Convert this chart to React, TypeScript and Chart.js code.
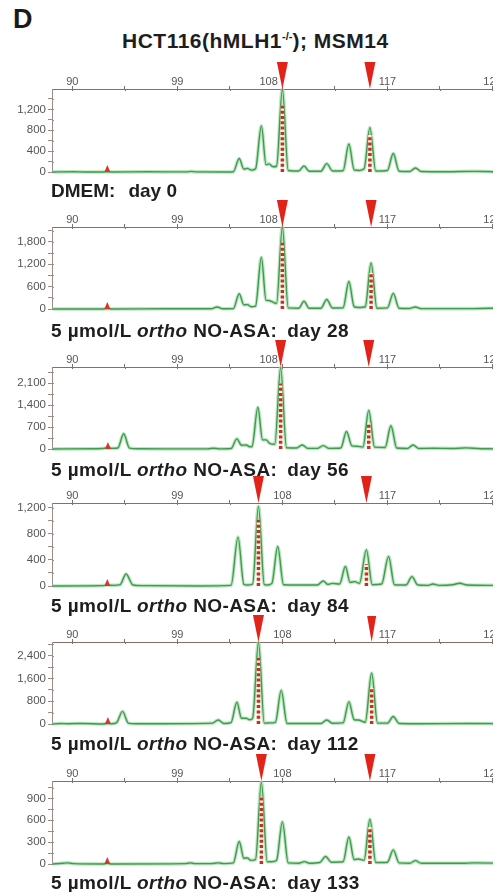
import React, { useEffect, useRef } from "react";
import { Chart, registerables } from "chart.js";

Chart.register(...registerables);

const FONT = "'Liberation Sans', Arial, Helvetica, sans-serif";

// ---------- data ----------
const xMin = 88.26;
const xMax = 128.36;
const xTicks = [90, 94.5, 99, 103.5, 108, 112.5, 117, 121.5, 126];
const xLabels = [90, 99, 108, 117, 126];

const treatmentParts: string[][] = [
  ["DMEM"],
  ["5 µmol/L ", "ortho", " NO-ASA"],
  ["5 µmol/L ", "ortho", " NO-ASA"],
  ["5 µmol/L ", "ortho", " NO-ASA"],
  ["5 µmol/L ", "ortho", " NO-ASA"],
  ["5 µmol/L ", "ortho", " NO-ASA"],
];
const days = [0, 28, 56, 84, 112, 133];

const yMax = [1590, 2200, 2620, 1272, 2880, 1140];
const yMajorStep = [400, 600, 700, 400, 800, 300];

const trace1: [number, number][] = [
  [88.3, 0], [90.2, 4], [91.0, 0], [92.6, 0], [93.0, 6], [93.4, 0], [96.5, 4], [99.8, 2], [100.2, 12], [100.6, 2],
  [103.3, 0], [103.8, 6], [104.3, 258], [104.7, 55], [105.0, 70], [105.35, 35], [105.7, 60], [106.2, 884],
  [106.6, 140], [106.85, 155], [107.2, 100], [107.5, 110], [108.0, 1590], [108.5, 30], [109.4, 20], [109.85, 116],
  [110.3, 15], [111.3, 15], [111.8, 161], [112.3, 20], [113.2, 25], [113.7, 535], [114.15, 40], [114.6, 30],
  [115.0, 60], [115.5, 851], [116.0, 20], [117.0, 30], [117.5, 355], [118.0, 15], [118.9, 10], [119.4, 77],
  [119.9, 10], [122.0, 5], [124.5, 12], [126.0, 5], [128.5, 3],
];
const trace2: [number, number][] = [
  [88.3, 0], [92.6, 0], [93.0, 10], [93.4, 0], [98.0, 5], [101.9, 5], [102.4, 55], [102.9, 5], [103.8, 10],
  [104.3, 409], [104.7, 110], [105.0, 118], [105.35, 60], [105.7, 80], [106.2, 1390], [106.6, 230], [106.85, 227],
  [107.15, 190], [107.5, 150], [108.0, 2200], [108.5, 30], [109.4, 20], [109.85, 209], [110.3, 20], [111.3, 20],
  [111.8, 255], [112.3, 25], [113.2, 30], [113.7, 736], [114.15, 60], [114.6, 40], [115.1, 60], [115.6, 1236],
  [116.1, 20], [117.0, 30], [117.5, 418], [118.0, 20], [118.9, 15], [119.4, 55], [119.9, 10], [124.0, 10],
  [125.8, 20], [128.5, 5],
];
const trace3: [number, number][] = [
  [88.3, 0], [92.0, 10], [92.6, 15], [93.0, 40], [93.4, 20], [93.9, 30], [94.4, 485], [94.9, 30], [95.6, 10],
  [98.0, 5], [101.6, 5], [102.1, 25], [102.6, 5], [103.6, 15], [104.1, 323], [104.5, 120], [104.9, 130],
  [105.2, 70], [105.4, 80], [105.9, 1335], [106.3, 290], [106.6, 290], [106.9, 183], [107.35, 150], [107.85, 2600],
  [108.35, 40], [109.2, 30], [109.7, 130], [110.2, 20], [111.0, 20], [111.5, 108], [112.0, 20], [113.0, 30],
  [113.5, 560], [113.95, 100], [114.4, 90], [114.9, 60], [115.4, 1228], [115.9, 60], [116.8, 50], [117.3, 743],
  [117.8, 30], [118.7, 15], [119.2, 130], [119.7, 15], [120.9, 25], [122.5, 15], [123.7, 35], [125.0, 10],
  [128.5, 5],
];
const trace4: [number, number][] = [
  [88.3, 0], [92.6, 5], [93.0, 15], [93.5, 10], [94.1, 20], [94.6, 185], [95.2, 15], [96.0, 5], [101.0, 0],
  [103.6, 10], [104.2, 749], [104.7, 25], [105.0, 15], [105.45, 30], [105.95, 1221], [106.45, 20], [106.7, 15],
  [107.1, 40], [107.6, 605], [108.1, 20], [110.5, 15], [111.0, 15], [111.5, 77], [111.9, 25], [112.3, 40],
  [112.9, 30], [113.4, 298], [113.8, 55], [114.2, 67], [114.6, 40], [115.2, 554], [115.7, 20], [116.5, 30],
  [117.1, 451], [117.6, 20], [118.6, 15], [119.1, 144], [119.6, 15], [120.5, 10], [120.9, 30], [121.4, 10],
  [122.6, 20], [123.2, 41], [123.8, 15], [126.0, 10], [128.5, 5],
];
const trace5: [number, number][] = [
  [88.3, 0], [89.0, 15], [89.6, 10], [91.0, 20], [92.6, 0], [93.0, 15], [93.4, 10], [93.8, 50], [94.3, 442],
  [94.8, 30], [95.5, 10], [98.0, 10], [102.0, 30], [102.5, 143], [103.0, 20], [103.6, 50], [104.1, 764],
  [104.5, 200], [104.9, 203], [105.2, 150], [105.45, 200], [105.95, 2870], [106.45, 30], [107.0, 40], [107.4, 60],
  [107.9, 1182], [108.4, 20], [109.5, 20], [111.3, 20], [111.8, 143], [112.3, 25], [113.2, 40], [113.7, 776],
  [114.15, 150], [114.5, 140], [115.1, 60], [115.65, 1791], [116.15, 30], [117.0, 30], [117.5, 263], [118.0, 20],
  [120.0, 10], [124.0, 15], [128.5, 10],
];
const trace6: [number, number][] = [
  [88.3, 0], [89.2, 10], [89.6, 15], [90.1, 5], [92.6, 0], [93.0, 8], [93.4, 0], [99.7, 5], [100.1, 15],
  [100.5, 5], [101.9, 5], [102.5, 15], [103.0, 5], [103.8, 15], [104.3, 310], [104.7, 80], [105.0, 83],
  [105.3, 50], [105.7, 60], [106.2, 1123], [106.7, 30], [107.1, 30], [107.5, 50], [108.0, 578], [108.5, 15],
  [109.4, 10], [109.9, 32], [110.3, 10], [111.2, 20], [111.7, 102], [112.2, 25], [113.2, 30], [113.7, 370],
  [114.15, 60], [114.5, 69], [115.0, 50], [115.5, 614], [116.0, 20], [117.0, 25], [117.5, 194], [118.0, 15],
  [118.9, 10], [119.4, 46], [119.9, 10], [123.5, 10], [124.3, 15], [128.5, 5],
];
const traces = [trace1, trace2, trace3, trace4, trace5, trace6];

// called allele markers (bp) and the height of the dotted bars
const markerBp = [
  [108.0, 115.5],
  [108.0, 115.6],
  [107.85, 115.4],
  [105.95, 115.2],
  [105.95, 115.65],
  [106.2, 115.5],
];
const markerHeight = [
  [1270, 712],
  [1776, 969],
  [2090, 818],
  [1015, 338],
  [2315, 1258],
  [922, 507],
];
const smallMarkerBp = [93.0, 93.0, 93.05, 93.0, 93.05, 93.0];
const shift108 = [true, true, true, false, false, false];

// ---------- layout ----------
const axisTop = [89, 227, 367, 503, 642, 781];
const baseline = [172, 309, 449, 586, 724, 864];
const labelCapTop = [183, 323, 462, 598, 736, 875];
const AXIS_H = 30;
const PAD_B = 10;
const CANVAS_W = 520;

function markerPlugin(i: number) {
  return {
    id: "alleleMarkers" + i,
    afterDraw(chart: any) {
      const { ctx, chartArea, scales } = chart;
      const xs = scales.x;
      const ys = scales.y;
      ctx.save();
      // small tick marks crossing the axes (inside part)
      ctx.strokeStyle = "#8c6c66";
      ctx.lineWidth = 1;
      xs.ticks.forEach((t: any) => {
        const px = Math.round(xs.getPixelForValue(t.value)) + 0.5;
        ctx.beginPath();
        ctx.moveTo(px, chartArea.top);
        ctx.lineTo(px, chartArea.top + 2);
        ctx.stroke();
      });
      ctx.strokeStyle = "#9b8c88";
      ys.ticks.forEach((t: any) => {
        const py = Math.round(ys.getPixelForValue(t.value)) + 0.5;
        ctx.beginPath();
        ctx.moveTo(chartArea.left, py);
        ctx.lineTo(chartArea.left + 2, py);
        ctx.stroke();
      });
      ctx.fillStyle = "#e2231a";
      markerBp[i].forEach((bp: number, k: number) => {
        const px = xs.getPixelForValue(bp);
        const small = i === 4 && k === 1;
        const w = small ? 9 : 11;
        const h = small ? 26 : 27;
        ctx.beginPath();
        ctx.moveTo(px, chartArea.top);
        ctx.lineTo(px - w / 2, chartArea.top - h);
        ctx.lineTo(px + w / 2, chartArea.top - h);
        ctx.closePath();
        ctx.fill();
      });
      const sx = xs.getPixelForValue(smallMarkerBp[i]);
      const sy = ys.getPixelForValue(0);
      ctx.fillStyle = "#d9362a";
      ctx.beginPath();
      ctx.moveTo(sx, sy - 7);
      ctx.lineTo(sx - 3, sy);
      ctx.lineTo(sx + 3, sy);
      ctx.closePath();
      ctx.fill();
      ctx.restore();
    },
  };
}

function Panel({ i }: { i: number }) {
  const ref = useRef<HTMLCanvasElement | null>(null);
  const plotH = baseline[i] - axisTop[i];
  const H = AXIS_H + plotH + PAD_B;

  useEffect(() => {
    if (!ref.current) return;
    const datasets: any[] = [];
    markerBp[i].forEach((bp, k) => {
      const pts = [
        { x: bp, y: 0 },
        { x: bp, y: markerHeight[i][k] },
      ];
      datasets.push({
        data: pts,
        borderColor: "#c62f28",
        borderWidth: 3.5,
        borderDash: [3, 2.3],
        borderCapStyle: "butt",
        pointRadius: 0,
        order: 1,
      });
      datasets.push({
        data: pts,
        borderColor: "#fbf3d8",
        borderWidth: 3.5,
        pointRadius: 0,
        order: 2,
      });
    });
    const tr = traces[i].map(([x, y]) => ({ x, y }));
    datasets.push({
      data: tr,
      borderColor: "#3f9b4d",
      borderWidth: 1.4,
      pointRadius: 0,
      cubicInterpolationMode: "monotone",
      clip: false,
      order: 3,
    });
    datasets.push({
      data: tr,
      borderColor: "rgba(165,220,172,0.75)",
      borderWidth: 3.6,
      pointRadius: 0,
      cubicInterpolationMode: "monotone",
      clip: false,
      order: 4,
    });

    const major = yMajorStep[i];
    const chart = new Chart(ref.current, {
      type: "line",
      data: { datasets },
      options: {
        animation: false,
        responsive: false,
        maintainAspectRatio: false,
        layout: { padding: { left: 0, right: 0, top: 0, bottom: PAD_B } },
        plugins: { legend: { display: false }, tooltip: { enabled: false } },
        scales: {
          x: {
            type: "linear",
            position: "top",
            min: xMin,
            max: xMax,
            afterFit: (s: any) => {
              s.height = AXIS_H;
            },
            afterBuildTicks: (s: any) => {
              s.ticks = xTicks.map((v) => ({ value: v }));
            },
            ticks: {
              autoSkip: false,
              maxRotation: 0,
              padding: -3,
              color: "#555",
              font: { family: FONT, size: 11 },
              callback: (v: any) => {
                const n = Number(v);
                if (!xLabels.includes(n)) return "";
                if (n === 108 && shift108[i]) return "108" + " ".repeat(9);
                return String(n);
              },
            },
            grid: { drawOnChartArea: false, drawTicks: true, tickLength: 3, color: "#8c6c66" },
            border: { display: true, color: "#8c6c66", width: 1 },
          },
          y: {
            type: "linear",
            min: 0,
            max: yMax[i],
            afterFit: (s: any) => {
              s.width = 52;
            },
            afterBuildTicks: (s: any) => {
              const list: { value: number }[] = [];
              for (let v = 0; v < yMax[i]; v += major / 2) list.push({ value: v });
              s.ticks = list;
            },
            ticks: {
              autoSkip: false,
              padding: 2,
              color: "#555",
              font: { family: FONT, size: 11.5 },
              callback: (v: any) => {
                const n = Number(v);
                return n % major === 0 ? n.toLocaleString("en-US") : "";
              },
            },
            grid: { drawOnChartArea: false, drawTicks: true, tickLength: 4, color: "#9b8c88" },
            border: { display: true, color: "#9b8c88", width: 1 },
          },
        },
      } as any,
      plugins: [markerPlugin(i)],
    });
    return () => chart.destroy();
  }, [i]);

  return (
    <canvas
      ref={ref}
      width={CANVAS_W}
      height={H}
      style={{ position: "absolute", left: 0, top: axisTop[i] - AXIS_H, width: CANVAS_W, height: H }}
    />
  );
}

function PanelLabel({ i }: { i: number }) {
  const parts = treatmentParts[i];
  const size = 19;
  const first = i === 0;
  return (
    <div
      style={{
        position: "absolute",
        left: 51,
        top: labelCapTop[i] - size * 0.13,
        fontSize: size,
        lineHeight: 1,
        fontWeight: "bold",
        color: "#1e1e1e",
        whiteSpace: "nowrap",
        letterSpacing: first ? 0 : 0.4,
        fontFamily: FONT,
      }}
    >
      {parts.map((p, k) => (k % 2 === 1 ? <i key={k}>{p}</i> : <span key={k}>{p}</span>))}
      <span>:</span>
      <span style={{ display: "inline-block", marginLeft: first ? 13 : 10 }}>{"day " + days[i]}</span>
    </div>
  );
}

export default function App() {
  return (
    <div
      style={{
        position: "absolute",
        left: 0,
        top: 0,
        width: 495,
        height: 892,
        overflow: "hidden",
        background: "#fff",
        fontFamily: FONT,
      }}
    >
      <div style={{ position: "absolute", left: 0, top: 0, width: 493, height: 892, overflow: "hidden" }}>
        {days.map((_, i) => (
          <Panel key={i} i={i} />
        ))}
      </div>
      <div
        style={{
          position: "absolute",
          left: 13,
          top: 6,
          fontSize: 27,
          lineHeight: 1,
          fontWeight: "bold",
          color: "#1a1a1a",
        }}
      >
        D
      </div>
      <div
        style={{
          position: "absolute",
          left: 122,
          top: 30,
          fontSize: 21,
          lineHeight: 1,
          fontWeight: "bold",
          color: "#1e1e1e",
          letterSpacing: 0.5,
          whiteSpace: "nowrap",
        }}
      >
        HCT116(hMLH1
        <span style={{ fontSize: 11, position: "relative", top: -8, letterSpacing: 0 }}>-/-</span>
        ); MSM14
      </div>
      {days.map((_, i) => (
        <PanelLabel key={i} i={i} />
      ))}
    </div>
  );
}
